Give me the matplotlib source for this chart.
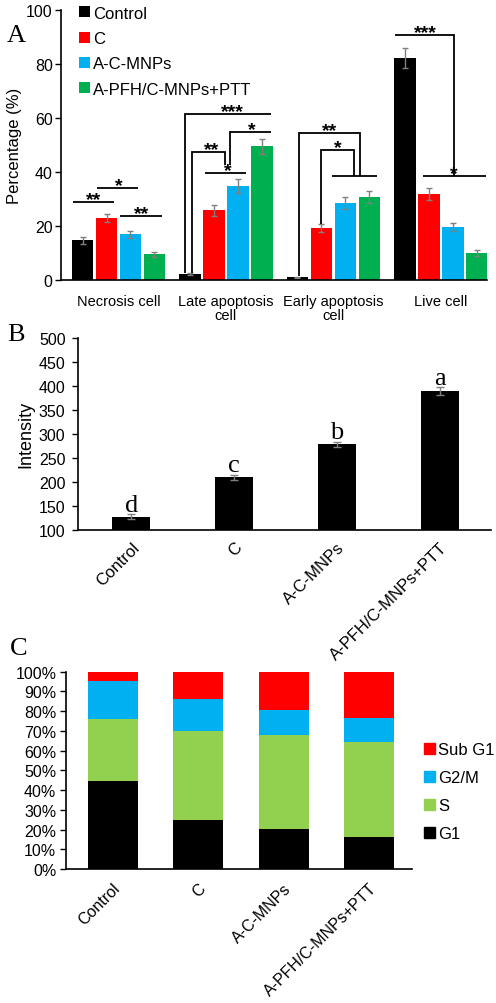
import matplotlib
matplotlib.use('Agg')
import matplotlib.pyplot as plt
import numpy as np
from matplotlib.patches import Patch

plt.rcParams['font.family'] = ['Liberation Sans', 'DejaVu Sans']
SERIF = ['Liberation Serif', 'DejaVu Serif']

# ---------------- data ----------------
groups = ['Control', 'C', 'A-C-MNPs', 'A-PFH/C-MNPs+PTT']
cats_a = ['Necrosis cell', 'Late apoptosis\ncell', 'Early apoptosis\ncell', 'Live cell']

control_a = [14.8, 2.3, 1.0, 82.3]
c_a = [22.8, 25.8, 19.2, 32.0]
acm_a = [16.9, 34.8, 28.6, 19.7]
pfh_a = [9.5, 49.5, 30.8, 10.0]
control_a_err = [1.3, 0.3, 0.2, 3.6]
c_a_err = [1.5, 2.0, 1.4, 2.2]
acm_a_err = [1.4, 2.5, 2.2, 1.5]
pfh_a_err = [0.8, 2.8, 2.2, 1.1]

intensity = [127, 209, 278, 389]
intensity_err = [5, 6, 6, 8]
letters_b = ['d', 'c', 'b', 'a']
ticks_b = [100, 150, 200, 250, 300, 350, 400, 450, 500]

phases = ['G1', 'S', 'G2/M', 'Sub G1']
g1 = [44.5, 25.0, 20.3, 16.1]
s_phase = [31.3, 44.9, 47.4, 48.5]
g2m = [19.6, 16.2, 13.0, 11.9]
subg1 = [4.6, 13.9, 19.3, 23.5]
ticks_c = [0, 10, 20, 30, 40, 50, 60, 70, 80, 90, 100]

# ---------------- style ----------------
colors_a = ['#000000', '#FF0000', '#00B0F0', '#00B050']
colors_c = {'G1': '#000000', 'S': '#92D050', 'G2/M': '#00B0F0', 'Sub G1': '#FF0000'}
ecol = '#808080'

W, H = 496, 1004
fig = plt.figure(figsize=(W / 100, H / 100), dpi=100)


def fax(l, t, r, b):
    return fig.add_axes([l / W, 1 - b / H, (r - l) / W, (b - t) / H])


def style(ax, fs, pad=2):
    for sp in ['top', 'right']:
        ax.spines[sp].set_visible(False)
    for sp in ['left', 'bottom']:
        ax.spines[sp].set_linewidth(1.2)
    ax.tick_params(axis='y', direction='out', length=4, width=1, labelsize=fs, pad=pad)
    ax.tick_params(axis='x', length=0)


# ================= Panel A =================
axA = fax(61, 11, 487, 281)
style(axA, 11.5)
step = 0.223
bw = 0.20
xg = np.arange(len(cats_a))
series = [(control_a, control_a_err), (c_a, c_a_err), (acm_a, acm_a_err), (pfh_a, pfh_a_err)]
for k, (vals, errs) in enumerate(series):
    axA.bar(xg + (k - 1.5) * step, vals, width=bw, color=colors_a[k], label=groups[k],
            yerr=errs, error_kw=dict(ecolor=ecol, elinewidth=1, capsize=2.5, capthick=1))
axA.set_xlim(-0.535, 3.43)
axA.set_ylim(0, 100)
axA.set_yticks([0, 20, 40, 60, 80, 100])
axA.set_xticks(xg)
axA.set_xticklabels(cats_a, fontsize=10.5, linespacing=1.0)
axA.tick_params(axis='x', pad=10)
axA.set_ylabel('Percentage (%)', fontsize=12, labelpad=3)


def bx(g, k, d=0.0):
    return g + (k - 1.5) * step + d * step


lw = 1.3
brackets = [
    # necrosis
    [(bx(0, 0, -0.41), 29.0), (bx(0, 1, 0.31), 29.0)],
    [(bx(0, 1, -0.41), 34.0), (bx(0, 2, 0.31), 34.0)],
    [(bx(0, 2, -0.44), 23.8), (bx(0, 3, 0.30), 23.8)],
    # late apoptosis
    [(bx(1, 0, -0.2), 2.7), (bx(1, 0, -0.2), 61.5), (bx(1, 3, 0.38), 61.5)],
    [(bx(1, 0, 0.09), 2.7), (bx(1, 0, 0.09), 47.4), (bx(1, 1, 0.46), 47.4), (bx(1, 1, 0.46), 42.6)],
    [(bx(1, 2, -0.34), 42.6), (bx(1, 2, -0.34), 54.9), (bx(1, 3, 0.38), 54.9)],
    [(bx(1, 1, -0.37), 39.5), (bx(1, 2, 0.33), 39.5)],
    # early apoptosis
    [(bx(2, 0, 0.06), 1.4), (bx(2, 0, 0.06), 54.4), (bx(2, 2, 0.63), 54.4), (bx(2, 2, 0.63), 38.6)],
    [(bx(2, 1, -0.03), 20.8), (bx(2, 1, -0.03), 48.3), (bx(2, 2, 0.35), 48.3), (bx(2, 2, 0.35), 38.6)],
    [(bx(2, 1, 0.45), 38.6), (bx(2, 3, 0.32), 38.6)],
    # live
    [(bx(3, 0, -0.42), 90.8), (bx(3, 2, 0.05), 90.8), (bx(3, 2, 0.05), 38.6)],
    [(bx(3, 1, -0.26), 38.6), (bx(3, 3, 0.40), 38.6)],
]
for br in brackets:
    xs, ys = zip(*br)
    axA.plot(xs, ys, color='#000000', lw=lw, solid_capstyle='butt', solid_joinstyle='miter')

stars = [
    (-0.228, 29.0, '**'), (0.005, 34.0, '*'), (0.216, 23.8, '**'),
    (1.065, 61.5, '***'), (0.87, 47.4, '**'), (1.242, 54.9, '*'), (1.019, 39.5, '*'),
    (1.967, 54.4, '**'), (2.041, 48.3, '*'),
    (2.86, 90.8, '***'), (3.124, 38.6, '*'),
]
for x, y, t in stars:
    axA.annotate(t, (x, y), xytext=(0, -1.5), textcoords='offset points', ha='center',
                 va='baseline', fontsize=14, fontweight='bold')

legA = axA.legend(loc='upper left', bbox_to_anchor=(0.042, 1.016), frameon=False, fontsize=12,
                  handlelength=0.65, handleheight=0.65, handletextpad=0.2, labelspacing=0.62,
                  borderaxespad=0, borderpad=0)
fig.text(7 / W, 1 - 42 / H, 'A', family=SERIF, fontsize=19, va='baseline', ha='left')

# ================= Panel B =================
axB = fax(78, 339, 491, 530.7)
style(axB, 11.5, pad=5)
xb = np.arange(len(groups))
axB.bar(xb, intensity, width=0.37, color='#000000', bottom=0,
        yerr=intensity_err, error_kw=dict(ecolor=ecol, elinewidth=1, capsize=3, capthick=1))
axB.set_xlim(-0.52, 3.5)
axB.set_ylim(100, 500)
axB.set_yticks(ticks_b)
axB.set_xticks(xb)
axB.set_xticklabels(groups, rotation=45, ha='right', rotation_mode='anchor', fontsize=12)
axB.tick_params(axis='x', pad=7)
axB.set_ylabel('Intensity', fontsize=13, labelpad=3)
for x, v, e, t in zip(xb, intensity, intensity_err, letters_b):
    axB.annotate(t, (x, v + e), xytext=(0, 2.5), textcoords='offset points', ha='center',
                 va='baseline', family=SERIF, fontsize=19)
fig.text(7 / W, 1 - 341 / H, 'B', family=SERIF, fontsize=19, va='baseline', ha='left')

# ================= Panel C =================
axC = fax(66, 672.7, 411.7, 870)
style(axC, 11.5, pad=3)
xc = np.arange(len(groups))
bottom = np.zeros(len(groups))
for name, vals in zip(phases, [g1, s_phase, g2m, subg1]):
    axC.bar(xc, vals, width=0.585, bottom=bottom, color=colors_c[name], label=name)
    bottom = bottom + np.array(vals)
axC.set_xlim(-0.546, 3.497)
axC.set_ylim(0, 100)
axC.set_yticks(ticks_c)
axC.set_yticklabels([f'{t}%' for t in ticks_c])
axC.set_xticks(xc)
axC.set_xticklabels(groups, rotation=45, ha='right', rotation_mode='anchor', fontsize=11.5)
axC.tick_params(axis='x', pad=8)
order = ['Sub G1', 'G2/M', 'S', 'G1']
fig.legend([Patch(color=colors_c[n]) for n in order], order, loc='upper left',
           bbox_to_anchor=(424 / W, 1 - 743 / H), frameon=False, fontsize=12,
           handlelength=0.65, handleheight=0.65, handletextpad=0.2, labelspacing=0.78,
           borderaxespad=0, borderpad=0)
fig.text(10 / W, 1 - 655 / H, 'C', family=SERIF, fontsize=19, va='baseline', ha='left')

fig.savefig('out.png', dpi=100)
